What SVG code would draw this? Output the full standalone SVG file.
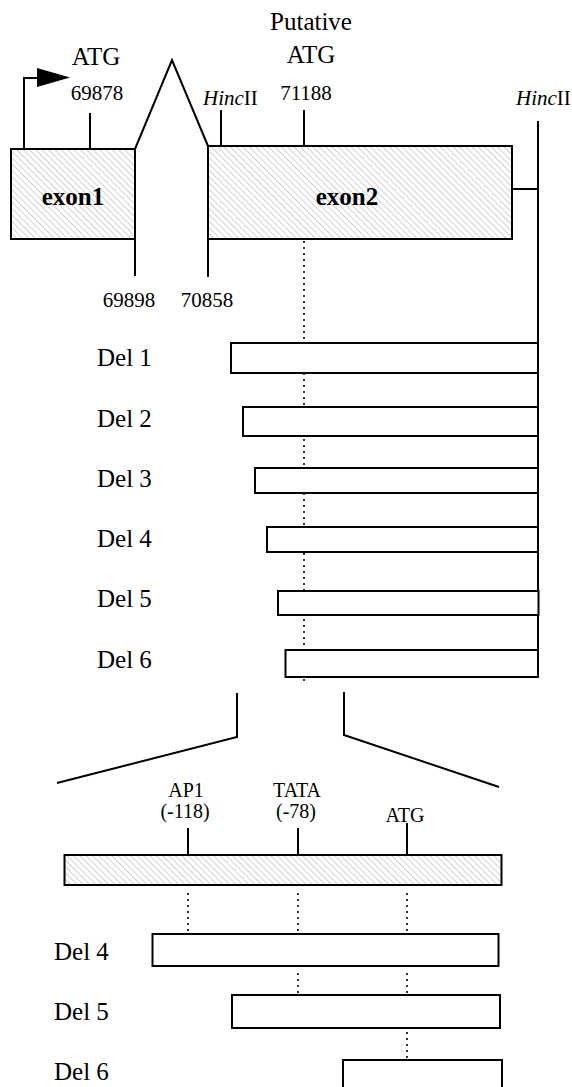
<svg xmlns="http://www.w3.org/2000/svg" width="572" height="1087" viewBox="0 0 572 1087">
<style>
text{font-family:"Liberation Serif","Times New Roman",serif;fill:#000}
.big{font-size:25px}
.num{font-size:21px}
.lbl{font-size:25px}
.sm{font-size:20px}
.bold{font-weight:bold;font-size:25px}
.ln{stroke:#000;stroke-width:2;fill:none}
.dot{stroke:#000;stroke-width:1.6;fill:none;stroke-dasharray:2 4}
.box{stroke:#000;stroke-width:2;fill:#fff}
.hbox{stroke:#000;stroke-width:2;fill:url(#hatch)}
</style>
<defs>
<pattern id="hatch" width="4.5" height="4.5" patternUnits="userSpaceOnUse" patternTransform="rotate(-45)">
<rect width="4.5" height="4.5" fill="#fff"/>
<line x1="0" y1="0" x2="0" y2="4.5" stroke="#9a9a9a" stroke-width="0.9"/>
</pattern>
</defs>
<rect width="572" height="1087" fill="#fff"/>

<g id="connectors">
<!-- transcription start arrow -->
<polyline class="ln" points="24,149 24,78 38,78"/>
<polygon points="37,68 70,77.5 37,87" fill="#000"/>
<!-- splice -->
<polyline class="ln" points="135,149 172,60 208,146"/>
<!-- ticks -->
<line class="ln" x1="90" y1="113" x2="90" y2="149"/>
<line class="ln" x1="221" y1="110" x2="221" y2="146"/>
<line class="ln" x1="304" y1="110" x2="304" y2="146"/>
<line class="ln" x1="135" y1="239" x2="135" y2="276"/>
<line class="ln" x1="208" y1="239" x2="208" y2="277"/>
<!-- right HincII -->
<line class="ln" x1="512" y1="189" x2="538" y2="189"/>
<line class="ln" x1="538" y1="121" x2="538" y2="677"/>
<!-- putative ATG dotted -->
<line class="dot" x1="304" y1="241" x2="304" y2="682"/>
<!-- zoom lines -->
<polyline class="ln" points="237,693 237,737 57,783"/>
<polyline class="ln" points="344,692 344,735 499,787"/>
<!-- lower ticks -->
<line class="ln" x1="188" y1="828" x2="188" y2="855"/>
<line class="ln" x1="298" y1="828" x2="298" y2="855"/>
<line class="ln" x1="407" y1="823" x2="407" y2="855"/>
<!-- lower dotted -->
<line class="dot" x1="188" y1="893" x2="188" y2="932"/>
<line class="dot" x1="298" y1="893" x2="298" y2="932"/>
<line class="dot" x1="407" y1="893" x2="407" y2="932"/>
<line class="dot" x1="298" y1="973" x2="298" y2="994"/>
<line class="dot" x1="407" y1="973" x2="407" y2="994"/>
<line class="dot" x1="407" y1="1032" x2="407" y2="1058"/>
</g>

<g id="exon1">
<rect class="hbox" x="11" y="149" width="124" height="90"/>
<text class="bold" x="73" y="205" text-anchor="middle">exon1</text>
</g>
<g id="exon2">
<rect class="hbox" x="208" y="146" width="304" height="93"/>
<text class="bold" x="347" y="205" text-anchor="middle">exon2</text>
</g>

<g id="top-labels">
<text class="big" x="96" y="65" text-anchor="middle">ATG</text>
<text class="num" x="97" y="100" text-anchor="middle">69878</text>
<text class="big" x="311" y="30" text-anchor="middle">Putative</text>
<text class="big" x="311" y="63" text-anchor="middle">ATG</text>
<text class="num" x="306" y="100" text-anchor="middle">71188</text>
<text class="num" x="203" y="105"><tspan font-style="italic">Hinc</tspan>II</text>
<text class="num" x="516" y="105"><tspan font-style="italic">Hinc</tspan>II</text>
<text class="num" x="129" y="307" text-anchor="middle">69898</text>
<text class="num" x="207" y="307" text-anchor="middle">70858</text>
</g>

<g id="del1"><rect class="box" x="231" y="343" width="307" height="30"/><text class="lbl" x="97" y="366">Del 1</text></g>
<g id="del2"><rect class="box" x="243" y="407" width="295" height="29"/><text class="lbl" x="97" y="427">Del 2</text></g>
<g id="del3"><rect class="box" x="255" y="468" width="283" height="25"/><text class="lbl" x="97" y="487">Del 3</text></g>
<g id="del4"><rect class="box" x="267" y="527" width="271" height="25"/><text class="lbl" x="97" y="547">Del 4</text></g>
<g id="del5"><rect class="box" x="278" y="591" width="260.5" height="24"/><text class="lbl" x="97" y="607">Del 5</text></g>
<g id="del6"><rect class="box" x="285.5" y="650" width="252.5" height="27"/><text class="lbl" x="97" y="668">Del 6</text></g>

<g id="promoter">
<rect class="hbox" x="64.5" y="855" width="437" height="30"/>
<text class="sm" x="186" y="797" text-anchor="middle">AP1</text>
<text class="sm" x="185" y="818" text-anchor="middle">(-118)</text>
<text class="sm" x="297" y="797" text-anchor="middle">TATA</text>
<text class="sm" x="296" y="818" text-anchor="middle">(-78)</text>
<text class="sm" x="405" y="822" text-anchor="middle">ATG</text>
</g>

<g id="pdel4"><rect class="box" x="152.5" y="934" width="346" height="32"/><text class="lbl" x="54" y="960">Del 4</text></g>
<g id="pdel5"><rect class="box" x="232" y="995" width="268" height="33"/><text class="lbl" x="54" y="1020">Del 5</text></g>
<g id="pdel6"><rect class="box" x="343" y="1060" width="159" height="35"/><text class="lbl" x="54" y="1080">Del 6</text></g>
</svg>
